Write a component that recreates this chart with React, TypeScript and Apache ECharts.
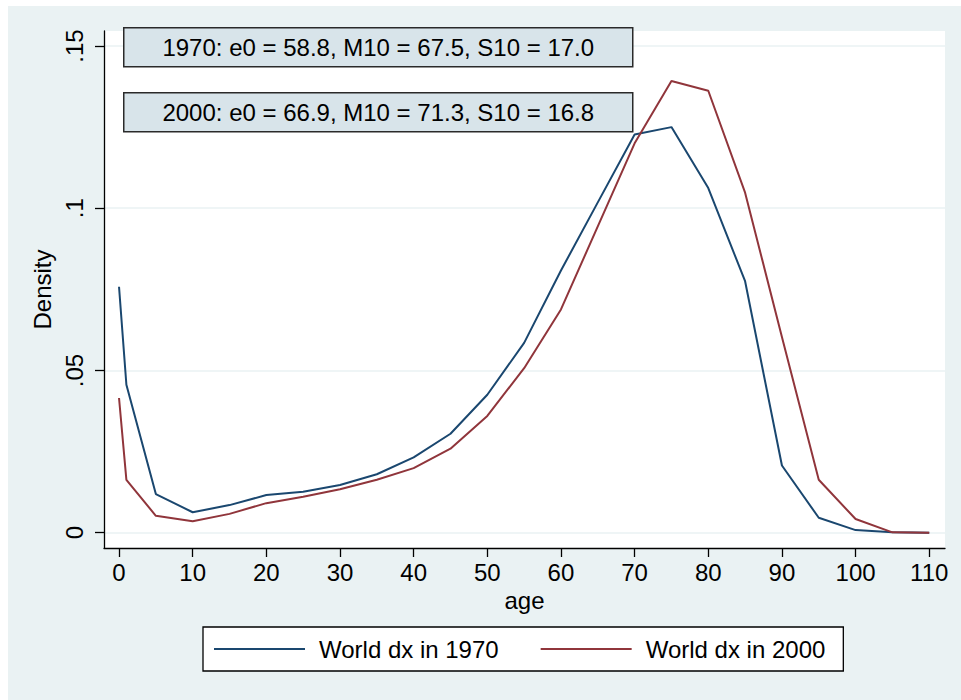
import React, { useEffect, useRef } from "react";
import * as echarts from "echarts";

const ages = [0, 1, 5, 10, 15, 20, 25, 30, 35, 40, 45, 50, 55, 60, 65, 70, 75, 80, 85, 90, 95, 100, 105, 110];
const dx1970 = [0.0758, 0.0456, 0.0119, 0.0063, 0.0085, 0.0116, 0.0126, 0.0147, 0.018, 0.0232, 0.0305, 0.0425, 0.0585, 0.0808, 0.1018, 0.1227, 0.125, 0.1062, 0.0775, 0.0207, 0.0046, 0.0008, 0.0001, 0.0];
const dx2000 = [0.0415, 0.0163, 0.0052, 0.0035, 0.0058, 0.0091, 0.0111, 0.0134, 0.0163, 0.0199, 0.0259, 0.036, 0.0507, 0.0688, 0.0944, 0.12, 0.1392, 0.1362, 0.1048, 0.0603, 0.0163, 0.0042, 0.0001, 0.0];
const seriesNames = ["World dx in 1970", "World dx in 2000"];
const xTicks = [0, 10, 20, 30, 40, 50, 60, 70, 80, 90, 100, 110];
const yTicks = [0, 0.05, 0.1, 0.15];
const yTickLabels = ["0", ".05", ".1", ".15"];
const notes = [
  "1970: e0 = 58.8, M10 = 67.5, S10 = 17.0",
  "2000: e0 = 66.9, M10 = 71.3, S10 = 16.8",
];

const FONT = "'Liberation Sans', Arial, Helvetica, sans-serif";
const BLUE = "#1A476F";
const RED = "#90353B";

export default function App() {
  const ref = useRef<HTMLDivElement>(null);
  useEffect(() => {
    if (!ref.current) return;
    const chart = echarts.init(ref.current, null, { renderer: "svg" });
    const boxStyle = { fill: "#D8E4EA", stroke: "#2a2a2a", lineWidth: 1.5 };
    const boxes = notes.map((t, i) => ({
      type: "group",
      left: 115,
      top: i === 0 ? 21 : 86,
      z: 100,
      children: [
        { type: "rect", z: 100, shape: { x: 0, y: 0, width: 509, height: 39 }, style: boxStyle },
        {
          type: "text",
          z: 101,
          x: 254.5,
          y: 19.5,
          style: { text: t, font: `24px ${FONT}`, fill: "#000", align: "center", verticalAlign: "middle" },
        },
      ],
    }));
    chart.setOption({
      animation: false,
      backgroundColor: "#EAF2F3",
      textStyle: { fontFamily: FONT },
      grid: { left: 96, right: 16, top: 25, bottom: 152, show: true, backgroundColor: "#FFFFFF", borderWidth: 0 },
      xAxis: {
        type: "value",
        min: -2.04,
        max: 112.14,
        name: "age",
        nameLocation: "middle",
        nameGap: 37,
        nameTextStyle: { fontSize: 24, color: "#000", fontFamily: FONT },
        axisLine: { show: true, onZero: false, lineStyle: { color: "#000", width: 1.3 } },
        axisTick: { show: true, length: 9, customValues: xTicks, lineStyle: { color: "#000", width: 1.3 } },
        axisLabel: { customValues: xTicks, fontSize: 24, color: "#000", margin: 12, fontFamily: FONT },
        splitLine: { show: false },
      },
      yAxis: {
        type: "value",
        min: -0.00472,
        max: 0.15462,
        name: "Density",
        nameLocation: "middle",
        nameGap: 46,
        nameRotate: 90,
        nameTextStyle: { fontSize: 24, color: "#000", fontFamily: FONT },
        axisLine: { show: true, onZero: false, lineStyle: { color: "#000", width: 1.3 } },
        axisTick: { show: true, length: 9, customValues: yTicks, lineStyle: { color: "#000", width: 1.3 } },
        axisLabel: {
          customValues: yTicks,
          rotate: 90,
          fontSize: 24,
          color: "#000",
          margin: 18,
          fontFamily: FONT,
          formatter: (v: number) => {
            const i = yTicks.findIndex((t) => Math.abs(t - v) < 1e-9);
            return i >= 0 ? yTickLabels[i] : "";
          },
        },
        splitLine: { show: true, lineStyle: { color: "#EAF2F3", width: 1.5 } },
      },
      legend: {
        show: true,
        left: 195,
        top: 621,
        orient: "horizontal",
        icon: "rect",
        itemWidth: 91,
        itemHeight: 2,
        itemGap: 42,
        padding: [10, 18, 10, 11],
        backgroundColor: "#FFFFFF",
        borderColor: "#000",
        borderWidth: 1.3,
        borderRadius: 0,
        textStyle: { fontSize: 24, color: "#000", fontFamily: FONT, padding: [0, 0, 0, 9] },
        data: seriesNames,
      },
      series: [
        {
          name: seriesNames[0],
          type: "line",
          data: ages.map((a, i) => [a, dx1970[i]]),
          symbol: "none",
          color: BLUE,
          lineStyle: { color: BLUE, width: 2 },
        },
        {
          name: seriesNames[1],
          type: "line",
          data: ages.map((a, i) => [a, dx2000[i]]),
          symbol: "none",
          color: RED,
          lineStyle: { color: RED, width: 2 },
        },
      ],
      graphic: boxes,
    });
    return () => chart.dispose();
  }, []);
  return (
    <div
      ref={ref}
      style={{ position: "absolute", left: 8, top: 6, width: 953, height: 694 }}
    />
  );
}
